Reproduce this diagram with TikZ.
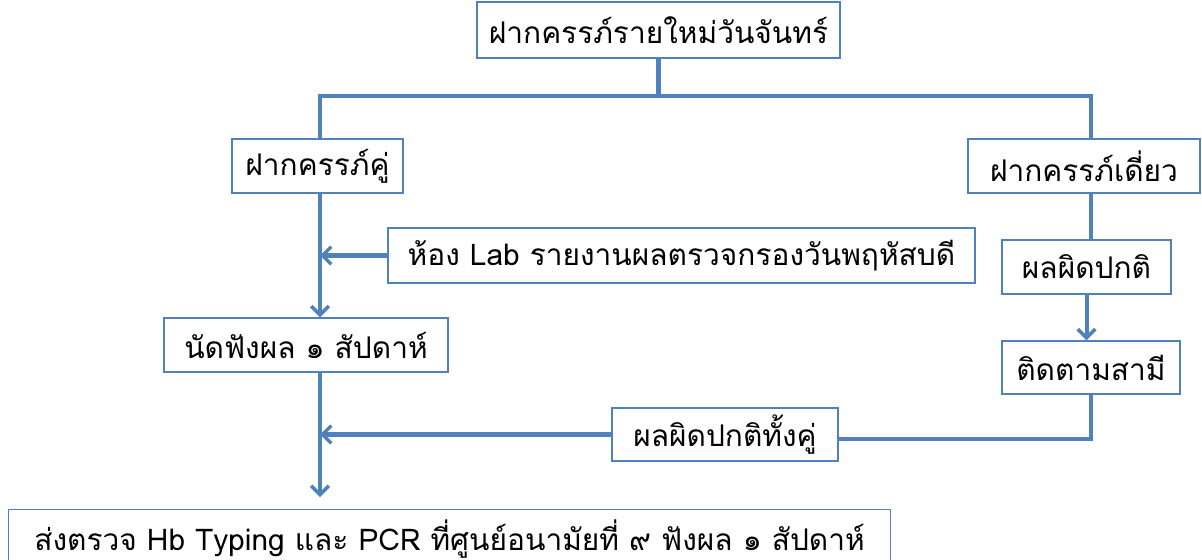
\documentclass[tikz,border=0pt]{standalone}
\usepackage{fontspec}
\newfontfamily\thaifont[Script=Thai]{Loma}
\usetikzlibrary{arrows.meta}
\definecolor{flowblue}{RGB}{79,129,189}
\tikzset{
  box/.style={draw=flowblue, line width=0.8pt, fill=white, inner sep=0pt,
    font=\thaifont\fontsize{17}{20}\selectfont},
  link/.style={draw=flowblue, line width=2.3pt},
  arr/.style={link, -{Straight Barb[length=5pt,width=10pt,line width=2pt]}}
}

\begin{document}
\begin{tikzpicture}[x=0.02cm, y=-0.02cm]
    \useasboundingbox (0,0) rectangle (1202,560);
    \node[box, minimum width=7.26cm, minimum height=1.12cm] (new) at (658.5,30) {ฝากครรภ์รายใหม่วันจันทร์};
    \node[box, minimum width=3.42cm, minimum height=1.08cm] (twin) at (317.5,166) {ฝากครรภ์คู่};
    \node[box, minimum width=4.64cm, minimum height=1.08cm] (single) at (1084,166) {ฝากครรภ์เดี่ยว};
    \node[box, minimum width=11.74cm, minimum height=1.1cm] (lab) at (681.5,255.5) {ห้อง Lab รายงานผลตรวจกรองวันพฤหัสบดี};
    \node[box, minimum width=3.38cm, minimum height=1.08cm] (abn) at (1086.5,267) {ผลผิดปกติ};
    \node[box, minimum width=5.68cm, minimum height=1.08cm] (appt) at (306,345) {นัดฟังผล ๑ สัปดาห์};
    \node[box, minimum width=3.56cm, minimum height=1.06cm] (husband) at (1091,367.5) {ติดตามสามี};
    \node[box, minimum width=4.52cm, minimum height=1.06cm] (both) at (725,434.5) {ผลผิดปกติทั้งคู่};
    \node[box, minimum width=17.64cm, text height=0.82cm, text depth=0.6cm, anchor=north west] (send) at (8,509) {ส่งตรวจ Hb Typing และ PCR ที่ศูนย์อนามัยที่ ๙ ฟังผล ๑ สัปดาห์};
    \coordinate (split) at (658.5,96);
    \coordinate (trunk) at (320,96);
    \coordinate (rbranch) at (1091,96);
    \coordinate (join) at (1091,439);
    \draw[link] (new.south) -- (split);
    \draw[link] (twin.north -| trunk) -- (trunk) -- (rbranch) -- (single.north -| rbranch);
    \draw[arr] (twin.south -| trunk) -- (appt.north -| trunk);
    \draw[arr] (lab.west) -- (lab.west -| trunk);
    \draw[link] (single.south -| rbranch) -- (abn.north -| rbranch);
    \draw[arr] (abn.south) -- (husband.north -| abn.south);
    \draw[link] (husband.south -| join) -- (join) -- (both.east |- join);
    \draw[arr] (both.west) -- (both.west -| trunk);
    \draw[arr] (appt.south -| trunk) -- ([yshift=0.24cm]send.north -| trunk);
\end{tikzpicture}
\end{document}
